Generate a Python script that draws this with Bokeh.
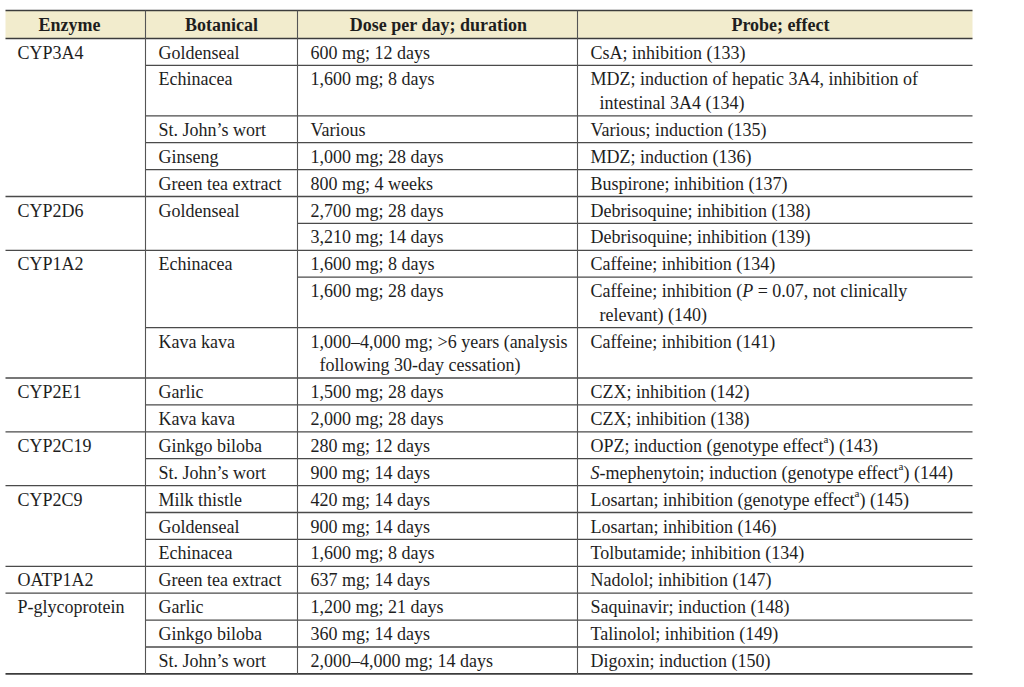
import glob
from bokeh.plotting import figure
from bokeh.models import Range1d, ColumnDataSource
from bokeh.core.properties import value
from bokeh.embed import file_html
from bokeh.resources import INLINE

# ---------------- data ----------------
headers = ["Enzyme", "Botanical", "Dose per day; duration", "Probe; effect"]

row_enzyme = ["CYP3A4", "", "", "", "", "CYP2D6", "", "CYP1A2", "", "",
              "CYP2E1", "", "CYP2C19", "", "CYP2C9", "", "", "OATP1A2",
              "P-glycoprotein", "", ""]
row_botanical = ["Goldenseal", "Echinacea", "St. John\u2019s wort", "Ginseng",
                 "Green tea extract", "Goldenseal", "", "Echinacea", "",
                 "Kava kava", "Garlic", "Kava kava", "Ginkgo biloba",
                 "St. John\u2019s wort", "Milk thistle", "Goldenseal",
                 "Echinacea", "Green tea extract", "Garlic", "Ginkgo biloba",
                 "St. John\u2019s wort"]
row_dose = ["600 mg; 12 days", "1,600 mg; 8 days", "Various",
            "1,000 mg; 28 days", "800 mg; 4 weeks", "2,700 mg; 28 days",
            "3,210 mg; 14 days", "1,600 mg; 8 days", "1,600 mg; 28 days",
            "1,000\u20134,000 mg; >6 years (analysis\nfollowing 30-day cessation)",
            "1,500 mg; 28 days", "2,000 mg; 28 days", "280 mg; 12 days",
            "900 mg; 14 days", "420 mg; 14 days", "900 mg; 14 days",
            "1,600 mg; 8 days", "637 mg; 14 days", "1,200 mg; 21 days",
            "360 mg; 14 days", "2,000\u20134,000 mg; 14 days"]
row_probe = ["CsA; inhibition (133)",
             "MDZ; induction of hepatic 3A4, inhibition of\nintestinal 3A4 (134)",
             "Various; induction (135)",
             "MDZ; induction (136)",
             "Buspirone; inhibition (137)",
             "Debrisoquine; inhibition (138)",
             "Debrisoquine; inhibition (139)",
             "Caffeine; inhibition (134)",
             "Caffeine; inhibition (*P* = 0.07, not clinically\nrelevant) (140)",
             "Caffeine; inhibition (141)",
             "CZX; inhibition (142)",
             "CZX; inhibition (138)",
             "OPZ; induction (genotype effect^a^) (143)",
             "*S*-mephenytoin; induction (genotype effect^a^) (144)",
             "Losartan; inhibition (genotype effect^a^) (145)",
             "Losartan; inhibition (146)",
             "Tolbutamide; inhibition (134)",
             "Nadolol; inhibition (147)",
             "Saquinavir; induction (148)",
             "Talinolol; inhibition (149)",
             "Digoxin; induction (150)"]

# ---------------- layout / style ----------------
FONT = "Liberation Serif"
FS = 18
SUP_FS = 11
col_edges = [5, 145, 297, 577, 972]
text_x = [17, 158, 310, 590]
header_cx = [69, 221, 438, 780]
table_top = 10
header_bottom = 38
row_h = 26.9
line_h = 23.5
base_off = 14
header_base = 24
indent = 9
TEXT_COLOR = "#1e1e1e"
LINE_COLOR = "#4a4a4a"
W, H = 1020, 684

def find_font(fname):
    for root in ["/usr/share/fonts", "/usr/local/share/fonts"]:
        r = glob.glob(root + "/**/" + fname, recursive=True)
        if r:
            return r[0]
    return None

font_files = {
    "normal": find_font("LiberationSerif-Regular.ttf"),
    "italic": find_font("LiberationSerif-Italic.ttf"),
    "sup": find_font("LiberationSerif-Regular.ttf"),
}
_cache = {}

def measure(t, style):
    size = SUP_FS if style == "sup" else FS
    key = (style, size)
    try:
        from PIL import ImageFont
        if key not in _cache:
            _cache[key] = ImageFont.truetype(font_files[style], size)
        return _cache[key].getlength(t)
    except Exception:
        return len(t) * size * 0.46

def parse(s):
    runs, style, buf = [], "normal", ""
    for ch in s:
        if ch in "*^":
            if buf:
                runs.append((buf, style))
            buf = ""
            tgt = "italic" if ch == "*" else "sup"
            style = "normal" if style == tgt else tgt
        else:
            buf += ch
    if buf:
        runs.append((buf, style))
    return runs

items = {"normal": dict(x=[], y=[], t=[]), "italic": dict(x=[], y=[], t=[]),
         "sup": dict(x=[], y=[], t=[])}

def place(line, x0, yb):
    x = x0
    for t, st in parse(line):
        lead = len(t) - len(t.lstrip(" "))
        trail = len(t) - len(t.rstrip(" "))
        core = t.strip(" ")
        x += measure(" " * lead, st) if lead else 0
        if core:
            d = items[st]
            d["x"].append(x)
            d["y"].append(yb - 7 if st == "sup" else yb)
            d["t"].append(core)
            x += measure(core, st)
        x += measure(" " * trail, st) if trail else 0

# rows
rows = list(zip(row_enzyme, row_botanical, row_dose, row_probe))
hx0, hx1, hy = [], [], []
y = header_bottom
bounds = []
for r in rows:
    nlines = max(c.count("\n") + 1 for c in r)
    for ci, cell in enumerate(r):
        if not cell:
            continue
        for k, ln in enumerate(cell.split("\n")):
            place(ln, text_x[ci] + (indent if k else 0), y + base_off + k * line_h)
    bounds.append(y)
    y += row_h + line_h * (nlines - 1)
table_bottom = y

for i, r in enumerate(rows):
    if i == 0:
        continue
    if r[0]:
        x0 = col_edges[0]
    elif r[1]:
        x0 = col_edges[1]
    else:
        x0 = col_edges[2]
    hx0.append(x0); hx1.append(col_edges[-1]); hy.append(bounds[i])

p = figure(width=W, height=H, x_range=Range1d(0, W), y_range=Range1d(H, 0),
           output_backend="svg", toolbar_location=None, min_border=0)
p.axis.visible = False
p.grid.visible = False
p.outline_line_color = None
p.background_fill_color = "white"
p.border_fill_color = "white"

# header band
p.quad(left=[col_edges[0]], right=[col_edges[-1]], top=[table_top], bottom=[header_bottom],
       fill_color="#F2ECCD", line_color=None)

# inner horizontal lines
p.segment(x0=hx0, x1=hx1, y0=hy, y1=hy, line_color=LINE_COLOR, line_width=1.3)
# outer/header lines
p.segment(x0=[col_edges[0]] * 3, x1=[col_edges[-1]] * 3,
          y0=[table_top, header_bottom, table_bottom], y1=[table_top, header_bottom, table_bottom],
          line_color="#3c3c3c", line_width=1.7)
# vertical lines
vx = col_edges[1:-1]
p.segment(x0=vx, x1=vx, y0=[table_top] * len(vx), y1=[table_bottom] * len(vx),
          line_color="#555555", line_width=1.1)

# header text
p.text(x=header_cx, y=[header_base] * 4, text=headers, text_font=value(FONT),
       text_font_size=f"{FS}px", text_font_style="bold", text_align="center",
       text_baseline="alphabetic", text_color=TEXT_COLOR)

for st, d in items.items():
    src = ColumnDataSource(dict(x=d["x"], y=d["y"], t=d["t"]))
    p.text(x="x", y="y", text="t", source=src, text_font=value(FONT),
           text_font_size=f"{SUP_FS if st == 'sup' else FS}px",
           text_font_style="italic" if st == "italic" else "normal",
           text_align="left", text_baseline="alphabetic", text_color=TEXT_COLOR)

open("out.html", "w").write(file_html(p, INLINE))
